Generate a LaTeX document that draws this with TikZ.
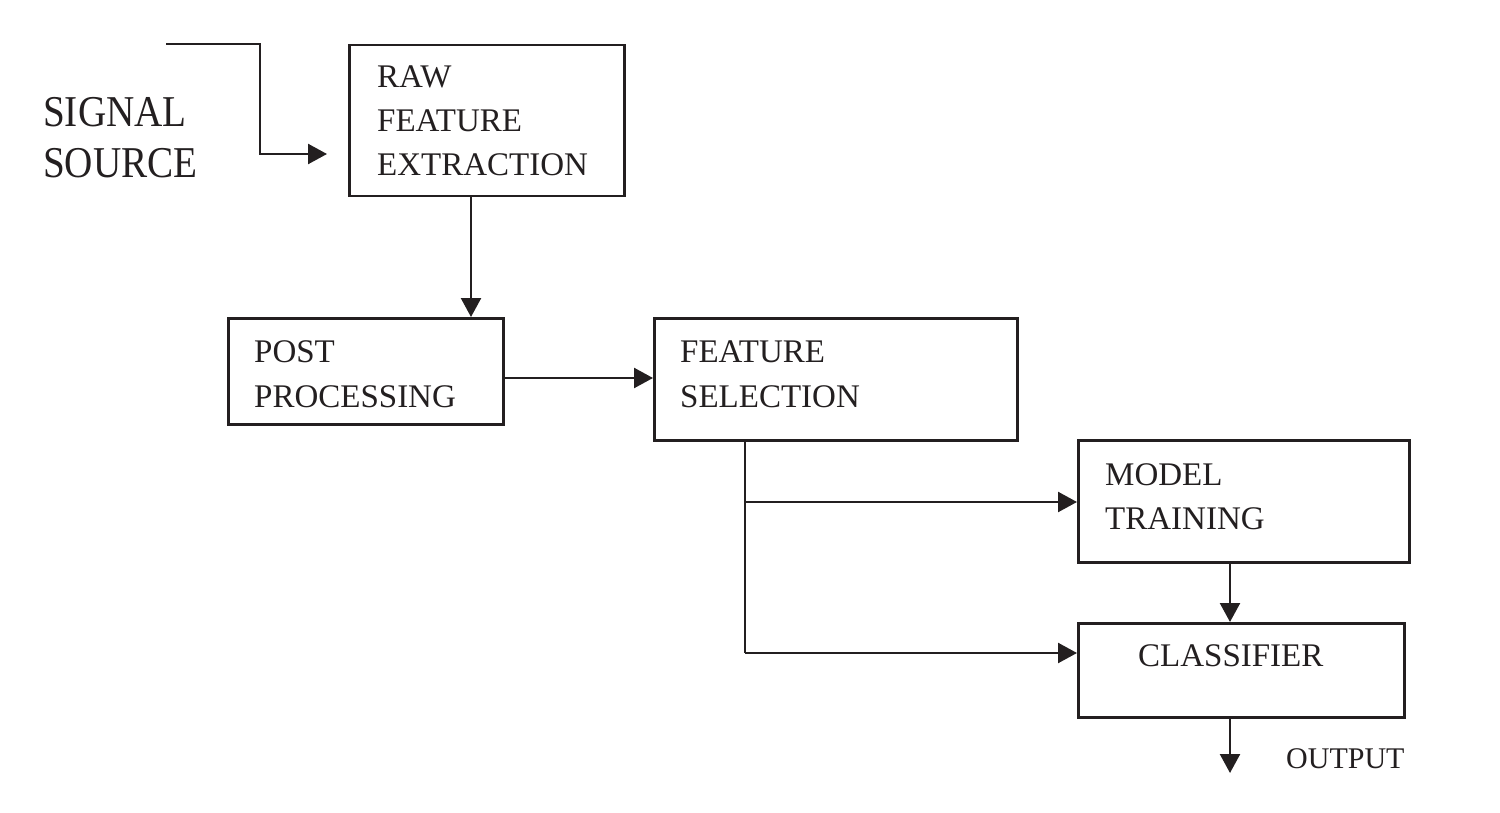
\documentclass[tikz,border=0pt]{standalone}
\usepackage{fontspec}
\setmainfont{Liberation Serif}
\newfontfamily\sigfont[FakeStretch=0.89]{Liberation Serif}
\usetikzlibrary{arrows.meta}
\definecolor{ink}{RGB}{35,31,32}
\begin{document}
\begin{tikzpicture}[x=1pt,y=-1pt,
  box/.style={draw=ink, line width=2.5pt, inner sep=0pt, anchor=north west},
  lbl/.style={inner sep=0pt, anchor=base west, text=ink},
  conn/.style={draw=ink, line width=2.4pt, -{Triangle[length=19pt,width=20pt]}},
  plain/.style={draw=ink, line width=2.4pt},
]
\useasboundingbox[fill=white] (0,0) rectangle (1500,813);

% boxes
\node[box, minimum width=275pt, minimum height=151pt] (raw) at (348,44) {};
\node[box, minimum width=275pt, minimum height=106pt] (post) at (227,317) {};
\node[box, minimum width=363pt, minimum height=122pt] (fs) at (653,317) {};
\node[box, minimum width=331pt, minimum height=122pt] (mt) at (1077,439) {};
\node[box, minimum width=326pt, minimum height=94pt] (cls) at (1077,622) {};

% texts
\node[lbl, font=\sigfont\fontsize{44}{51}\selectfont] (sig) at (43,127)
  {\begin{tabular}[t]{@{}l@{}}SIGNAL\\SOURCE\end{tabular}};
\node[lbl, font=\fontsize{33}{44}\selectfont] (rawt) at (377,88)
  {\begin{tabular}[t]{@{}l@{}}RAW\\FEATURE\\EXTRACTION\end{tabular}};
\node[lbl, font=\fontsize{33}{45}\selectfont] (postt) at (254,362)
  {\begin{tabular}[t]{@{}l@{}}POST\\PROCESSING\end{tabular}};
\node[lbl, font=\fontsize{33}{45}\selectfont] (fst) at (680,362)
  {\begin{tabular}[t]{@{}l@{}}FEATURE\\SELECTION\end{tabular}};
\node[lbl, font=\fontsize{33}{44}\selectfont] (mtt) at (1105,485)
  {\begin{tabular}[t]{@{}l@{}}MODEL\\TRAINING\end{tabular}};
\node[lbl, font=\fontsize{33}{44}\selectfont] (clst) at (1138,666) {CLASSIFIER};
\node[lbl, font=\fontsize{30}{36}\selectfont] (outt) at (1286,768) {OUTPUT};

% helper coordinates
\coordinate (in) at (166,44);
\coordinate (sigturn) at (260,154);
\coordinate (rpx) at (471,0);
\coordinate (ppy) at (0,378);
\coordinate (brx) at (745,0);
\coordinate (bm) at (745,502);
\coordinate (bl) at (745,653);
\coordinate (mcx) at (1230,0);
\coordinate (outend) at (1230,773);

% connectors
\draw[conn, shorten >=21pt] (in) -- (in -| sigturn) -- (sigturn) -- (sigturn -| raw.west);
\draw[conn] (raw.south -| rpx) -- (post.north -| rpx);
\draw[conn] (post.east |- ppy) -- (fs.west |- ppy);
\draw[plain] (fs.south -| brx) -- (bl);
\draw[conn] (bm) -- (bm -| mt.west);
\draw[conn] (bl) -- (bl -| cls.west);
\draw[conn] (mt.south -| mcx) -- (cls.north -| mcx);
\draw[conn] (cls.south -| mcx) -- (outend);
\end{tikzpicture}
\end{document}
